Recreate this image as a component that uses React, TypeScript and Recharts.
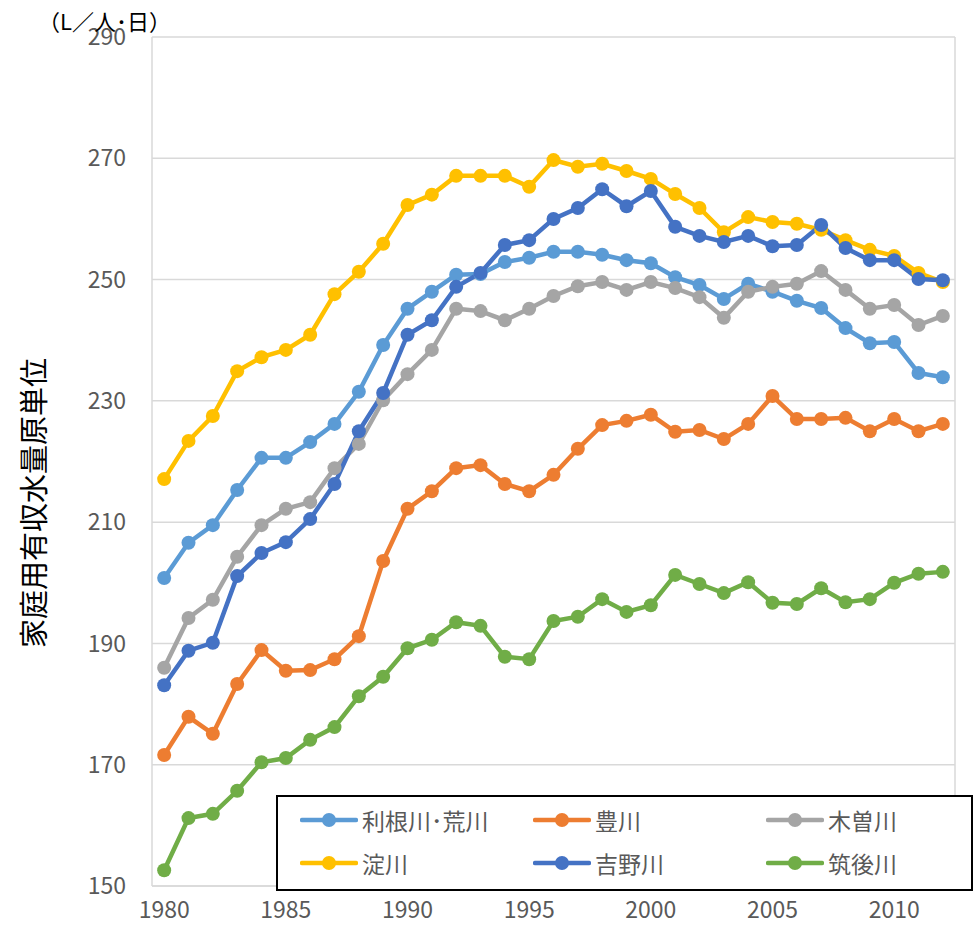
import React from "react";
import {
  LineChart,
  Line,
  XAxis,
  YAxis,
  CartesianGrid,
  Legend,
  ReferenceLine,
} from "recharts";

const FONT = "'Noto Sans CJK JP', 'Noto Sans', sans-serif";

const years = [
  1980, 1981, 1982, 1983, 1984, 1985, 1986, 1987, 1988, 1989, 1990, 1991, 1992,
  1993, 1994, 1995, 1996, 1997, 1998, 1999, 2000, 2001, 2002, 2003, 2004, 2005,
  2006, 2007, 2008, 2009, 2010, 2011, 2012,
];

const xTicks = [1980, 1985, 1990, 1995, 2000, 2005, 2010];
const yTicks = [150, 170, 190, 210, 230, 250, 270, 290];

const toneArakawa = [
  200.8, 206.6, 209.5, 215.3, 220.6, 220.6, 223.2, 226.2, 231.5, 239.2, 245.2,
  248.0, 250.8, 250.9, 252.9, 253.6, 254.6, 254.6, 254.1, 253.2, 252.7, 250.4,
  249.1, 246.8, 249.3, 248.0, 246.5, 245.3, 242.0, 239.5, 239.7, 234.6, 233.9,
];
const toyokawa = [
  171.6, 177.9, 175.1, 183.3, 188.9, 185.5, 185.6, 187.4, 191.2, 203.6, 212.2,
  215.1, 218.9, 219.4, 216.3, 215.1, 217.8, 222.1, 226.0, 226.7, 227.7, 224.9,
  225.2, 223.7, 226.2, 230.8, 227.0, 227.0, 227.2, 225.0, 227.0, 225.0, 226.2,
];
const kisogawa = [
  186.0, 194.2, 197.2, 204.3, 209.5, 212.2, 213.3, 218.9, 222.9, 230.1, 234.4,
  238.4, 245.2, 244.8, 243.3, 245.2, 247.3, 248.9, 249.6, 248.3, 249.6, 248.6,
  247.1, 243.7, 248.0, 248.8, 249.3, 251.4, 248.3, 245.2, 245.8, 242.5, 244.0,
];
const yodogawa = [
  217.1, 223.4, 227.5, 234.9, 237.2, 238.4, 240.9, 247.6, 251.3, 255.9, 262.3,
  264.0, 267.1, 267.1, 267.1, 265.3, 269.7, 268.6, 269.1, 267.9, 266.6, 264.1,
  261.8, 257.8, 260.3, 259.5, 259.2, 258.2, 256.5, 254.9, 253.9, 251.1, 249.6,
];
const yoshinogawa = [
  183.1, 188.8, 190.1, 201.1, 204.9, 206.7, 210.5, 216.3, 225.0, 231.3, 240.9,
  243.3, 248.8, 251.1, 255.7, 256.5, 260.0, 261.8, 264.9, 262.1, 264.6, 258.7,
  257.2, 256.2, 257.2, 255.5, 255.7, 259.0, 255.2, 253.2, 253.2, 250.1, 249.9,
];
const chikugogawa = [
  152.6, 161.2, 161.9, 165.7, 170.4, 171.1, 174.1, 176.2, 181.3, 184.5, 189.2,
  190.6, 193.5, 192.9, 187.8, 187.4, 193.7, 194.4, 197.3, 195.2, 196.3, 201.3,
  199.8, 198.3, 200.1, 196.7, 196.5, 199.1, 196.8, 197.3, 200.0, 201.5, 201.8,
];

const series = [
  { key: "tone", name: "利根川･荒川", color: "#5B9BD5", values: toneArakawa },
  { key: "toyo", name: "豊川", color: "#ED7D31", values: toyokawa },
  { key: "kiso", name: "木曽川", color: "#A5A5A5", values: kisogawa },
  { key: "yodo", name: "淀川", color: "#FFC000", values: yodogawa },
  { key: "yoshino", name: "吉野川", color: "#4472C4", values: yoshinogawa },
  { key: "chikugo", name: "筑後川", color: "#70AD47", values: chikugogawa },
];

const data = years.map((year, i) => {
  const row: Record<string, number> = { year };
  series.forEach((s) => {
    row[s.key] = s.values[i];
  });
  return row;
});

// legend drawn as 3 columns x 2 rows inside a black box, like Excel (series order kept)
const LegendBox = () => (
  <div
    style={{
      width: 697,
      height: 96,
      boxSizing: "border-box",
      border: "2px solid #000",
      background: "#fff",
      display: "grid",
      gridTemplateColumns: "233px 233px 1fr",
      gridTemplateRows: "1fr 1fr",
      paddingLeft: 22,
      paddingTop: 1,
      paddingBottom: 5,
      fontFamily: FONT,
    }}
  >
    {series.map((s) => (
      <div key={s.key} style={{ display: "flex", alignItems: "center" }}>
        <svg width={58} height={20} style={{ marginRight: 4 }}>
          <line x1={2} y1={10} x2={56} y2={10} stroke={s.color} strokeWidth={4.5} strokeLinecap="round" />
          <circle cx={29} cy={10} r={7} fill={s.color} />
        </svg>
        <span style={{ fontSize: 23, color: "#595959", whiteSpace: "nowrap" }}>{s.name}</span>
      </div>
    ))}
  </div>
);

export default function App() {
  return (
    <div style={{ position: "absolute", left: 0, top: 0, width: 979, height: 933, background: "#fff" }}>
      <LineChart
        width={979}
        height={933}
        data={data}
        margin={{ top: 37, right: 24, bottom: 0, left: 0 }}
        style={{ fontFamily: FONT }}
      >
        <CartesianGrid horizontal vertical={false} stroke="#d9d9d9" strokeWidth={1.5} />
        <XAxis
          dataKey="year"
          type="number"
          domain={[1979.5, 2012.5]}
          ticks={xTicks}
          allowDataOverflow
          height={47}
          tickLine={false}
          tickSize={0}
          tickMargin={16}
          axisLine={{ stroke: "#d9d9d9", strokeWidth: 1.5 }}
          tick={{ fill: "#595959", fontSize: 23, fontFamily: FONT }}
        />
        <YAxis
          domain={[150, 290]}
          ticks={yTicks}
          width={152}
          tickLine={false}
          tickSize={0}
          tickMargin={26}
          axisLine={{ stroke: "#d9d9d9", strokeWidth: 1.5 }}
          tick={{ fill: "#595959", fontSize: 23, fontFamily: FONT }}
        />
        <ReferenceLine x={2012.5} stroke="#d9d9d9" strokeWidth={1.5} />
        {series.map((s) => (
          <Line
            key={s.key}
            dataKey={s.key}
            name={s.name}
            stroke={s.color}
            strokeWidth={4.5}
            dot={{ r: 7, fill: s.color, stroke: s.color, strokeWidth: 0 }}
            activeDot={false}
            isAnimationActive={false}
          />
        ))}
        <Legend
          layout="horizontal"
          verticalAlign="middle"
          align="center"
          content={<LegendBox />}
          wrapperStyle={{ position: "absolute", left: 276, top: 795, width: 697, height: 96 }}
        />
      </LineChart>
      <div
        style={{
          position: "absolute",
          left: 38,
          top: 4,
          fontSize: 22,
          color: "#000",
          fontFamily: FONT,
          whiteSpace: "nowrap",
        }}
      >
        （L／人･日）
      </div>
      <div
        style={{
          position: "absolute",
          left: 32,
          top: 503,
          transform: "translate(-50%, -50%) rotate(-90deg)",
          fontSize: 29,
          color: "#000",
          fontFamily: FONT,
          whiteSpace: "nowrap",
        }}
      >
        家庭用有収水量原単位
      </div>
    </div>
  );
}
